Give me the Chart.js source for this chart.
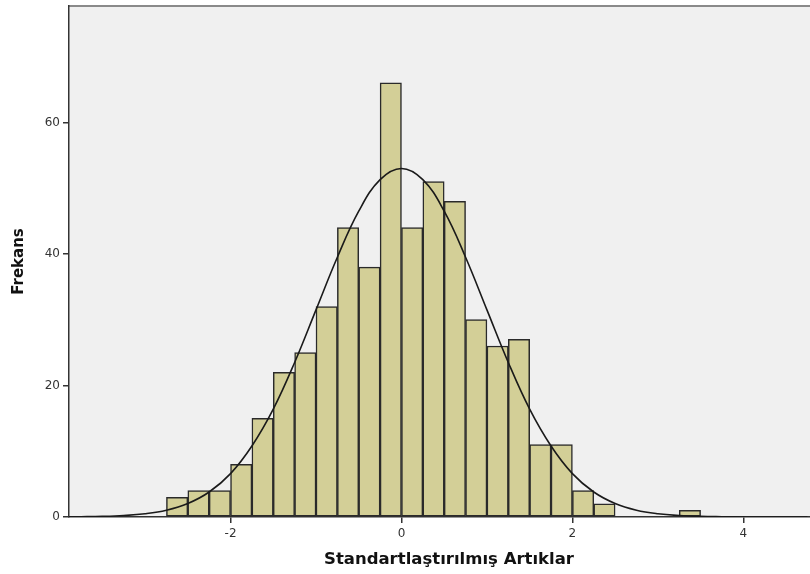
<!DOCTYPE html>
<html>
<head>
<meta charset="utf-8">
<script src="https://cdn.jsdelivr.net/npm/chart.js@4.4.0/dist/chart.umd.min.js"></script>
<style>
  html, body { margin: 0; padding: 0; background: #fff; }
  #wrap { width: 810px; height: 574px; position: relative; }
</style>
</head>
<body>
<div id="wrap"><canvas id="hist"></canvas></div>
<script>
// histogram bins (width 0.25), centre of each bin and its count
const binCenters = [-2.625, -2.375, -2.125, -1.875, -1.625, -1.375, -1.125, -0.875, -0.625, -0.375, -0.125,
  0.125, 0.375, 0.625, 0.875, 1.125, 1.375, 1.625, 1.875, 2.125, 2.375, 3.375];
const counts = [3, 4, 4, 8, 15, 22, 25, 32, 44, 38, 66, 44, 51, 48, 30, 26, 27, 11, 11, 4, 2, 1];

// normal curve
const curveX = [-4, -3.75, -3.5, -3.25, -3, -2.75, -2.5, -2.25, -2, -1.75, -1.5, -1.25, -1, -0.75, -0.5, -0.25, 0,
  0.25, 0.5, 0.75, 1, 1.25, 1.5, 1.75, 2, 2.25, 2.5, 2.75, 3, 3.25, 3.5, 3.75, 4, 4.25, 4.5, 4.75];
const curveY = [0.01, 0.04, 0.09, 0.22, 0.49, 1.03, 2.05, 3.8, 6.6, 10.8, 16.4, 23.5, 31.5, 39.5, 46.5, 51.3, 53,
  51.3, 46.5, 39.5, 31.5, 23.5, 16.4, 10.8, 6.6, 3.8, 2.05, 1.03, 0.49, 0.22, 0.09, 0.04, 0.01, 0.004, 0.001, 0];

const xTicks = [-2, 0, 2, 4];
const yTicks = [0, 20, 40, 60];
const xTitle = 'Standartlaştırılmış Artıklar';
const yTitle = 'Frekans';

const plotBg = {
  id: 'plotBg',
  beforeDraw(chart) {
    const { ctx, chartArea: a } = chart;
    ctx.save();
    ctx.fillStyle = '#f0f0f0';
    ctx.fillRect(a.left, a.top, a.right - a.left, a.bottom - a.top);
    ctx.strokeStyle = '#8a8a8a';
    ctx.lineWidth = 2;
    ctx.beginPath();
    ctx.moveTo(a.left, a.top);
    ctx.lineTo(a.right, a.top);
    ctx.stroke();
    ctx.restore();
  },
  // x title sits a little right of the axis centre in the original
  afterDraw(chart) {
    const ctx = chart.ctx;
    ctx.save();
    ctx.font = 'bold 16.5px "DejaVu Sans"';
    ctx.fillStyle = '#111';
    ctx.textAlign = 'center';
    ctx.textBaseline = 'middle';
    ctx.fillText(xTitle, 449, 560);
    ctx.restore();
  }
};

const tickFont = { family: 'DejaVu Sans', size: 12 };

new Chart(document.getElementById('hist'), {
  data: {
    datasets: [
      {
        type: 'line',
        data: curveX.map((x, i) => ({ x: x, y: curveY[i] })),
        borderColor: '#1a1a1a',
        borderWidth: 1.6,
        pointRadius: 0,
        tension: 0.4,
        fill: false,
        order: 1
      },
      {
        type: 'bar',
        data: binCenters.map((x, i) => ({ x: x, y: counts[i] })),
        backgroundColor: '#d3cf97',
        borderColor: '#2a2a2a',
        borderWidth: 1.5,
        borderSkipped: false,
        barPercentage: 1,
        categoryPercentage: 1,
        order: 2
      }
    ]
  },
  options: {
    responsive: true,
    maintainAspectRatio: false,
    animation: false,
    layout: { padding: { top: 6, right: 0, left: 0, bottom: 0 } },
    plugins: { legend: { display: false }, tooltip: { enabled: false } },
    scales: {
      x: {
        type: 'linear',
        offset: false,
        min: -3.89,
        max: 4.78,
        afterBuildTicks(axis) { axis.ticks = xTicks.map(v => ({ value: v })); },
        afterFit(axis) { axis.height = 57; axis.paddingLeft = 0; axis.paddingRight = 0; },
        ticks: { color: '#333', font: tickFont, padding: 4, maxRotation: 0 },
        grid: { offset: false, drawOnChartArea: false, drawTicks: true, tickLength: 6, color: '#333', lineWidth: 1.5 },
        border: { color: '#333', width: 1.5 },
        title: { display: false }
      },
      y: {
        min: 0,
        max: 77.7,
        afterBuildTicks(axis) { axis.ticks = yTicks.map(v => ({ value: v })); },
        afterFit(axis) { axis.width = 69; axis.paddingTop = 0; axis.paddingBottom = 0; },
        ticks: { color: '#333', font: tickFont, padding: 3 },
        grid: { drawOnChartArea: false, drawTicks: true, tickLength: 6, color: '#333', lineWidth: 1.5 },
        border: { color: '#333', width: 1.5 },
        title: { display: true, text: yTitle, color: '#111', font: { family: 'DejaVu Sans', size: 15, weight: 'bold' }, padding: { top: 10, bottom: 4 } }
      }
    }
  },
  plugins: [plotBg]
});
</script>
</body>
</html>
